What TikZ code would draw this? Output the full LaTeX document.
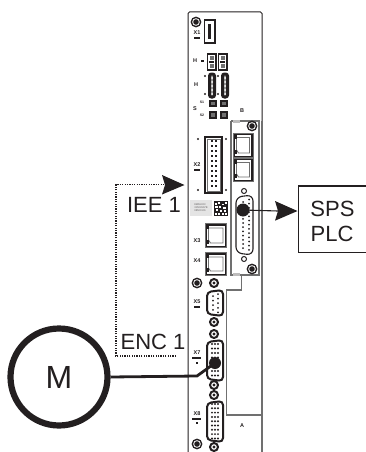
\documentclass[tikz,border=0pt]{standalone}
\usepackage{fontspec}
\setmainfont{Liberation Sans}
\definecolor{ink}{HTML}{231F20}
\definecolor{gr}{HTML}{707070}
\tikzset{
 x=1pt,y=-1pt,
 wire/.style={ink,line width=2.8pt},
 big/.style={font=\fontsize{22}{24}\selectfont,text=ink,inner sep=0pt},
 tinylab/.style={font=\bfseries\fontsize{5.5}{5.5}\selectfont,text=ink,inner sep=0pt},
 dsubshape/.style={draw=ink,line width=2pt,fill=white,rounded corners=4pt},
}
\newcommand{\screwat}[2]{\fill[ink] (#1,#2) circle (5.4); \fill[white] (#1,#2) circle (3.8); \fill[ink] (#1,#2) circle (2.8);}
\newcommand{\ear}[2]{\draw[ink,line width=2pt,fill=white] (#1,#2) circle (4); \fill[ink] (#1,#2) circle (1.6);}
\newcommand{\rjfort}[4]{\fill[gr] (#1-1,#2-1) rectangle (#3+1,#4+1);
 \fill[ink] (#1,#2) rectangle (#3,#4);
 \fill[white] (#1+1.5,#2+1.5) rectangle (#3-1.5,#4-1.5);
 \draw[gr,line width=.9pt,fill=white] (#1+3,#2+4) -- (#3-3,#2+4) -- (#3-3,#4-4) -- (#1+5,#4-4) -- (#1+3,#4-7) -- cycle;
 \fill[ink] (#1,#4-7) rectangle (#1+3,#4-3);\fill[ink] (#1,#2+1) rectangle (#1+3,#2+5);
}
\begin{document}
\begin{tikzpicture}
\useasboundingbox (0,0) rectangle (366,452);
% panel outline
\draw[ink,line width=1pt,rounded corners=1.5pt] (188,452) -- (188,12) -- (262,12) -- (262,121);
\draw[gr,line width=1.3pt] (262,121) -- (262,452);
\draw[gr,line width=1.3pt] (231,121) -- (259,121) -- (259,275) -- (241.6,275) -- (241.6,290) -- (226.6,290) -- (226.6,415) -- (262,415);
\draw[gr,line width=1.3pt] (231,121) -- (231,275) -- (241.6,275);
\fill[ink!30] (233,120) rectangle (240,122.5);
\fill[ink!30] (233,273) rectangle (240,276);
% X1
\screwat{196}{22}
\draw[ink,line width=1.7pt,fill=white] (204.5,20) rectangle (215,43);
\fill[ink] (207.5,24) rectangle (211,39);
\node[tinylab] (x1) at (197,33) {X1};
\fill[ink] (194,37) rectangle (200,39);
% 7 seg
\node[tinylab] (h1) at (195,61) {H};
\fill[ink] (201,60.5) rectangle (204,62.5);
\foreach \xx in {207.5,218.5}{
 \draw[ink,line width=1.9pt,fill=white] (\xx,54) rectangle ++(8.5,16);
 \draw[ink,line width=1.4pt] (\xx+1.7,62) -- (\xx+6.8,62);
 \fill[gr] (\xx+2,56) rectangle (\xx+6.5,60);
 \fill[gr] (\xx+2,64) rectangle (\xx+6.5,68);
}
% H
\node[tinylab] (h2) at (196,85) {H};
\foreach \xx in {212,225}{
 \draw[ink,line width=3pt,fill=gr!70,rounded corners=2pt] (\xx-2.5,74) -- (\xx-2.5,97) -- (\xx+2.5,97) -- (\xx+2.5,74) -- cycle;
 \foreach \yy in {78,82,86,90,94}{\fill[white] (\xx,\yy) circle (1);}
}
\foreach \p in {(205,76),(218,76),(205,94),(218,94)}{\fill[ink] \p circle (1.2);}
% S
\node[tinylab] (s1) at (195,109) {S};
\node[tinylab,font=\bfseries\fontsize{3.5}{3.5}\selectfont] (s2) at (202,102) {S1};
\node[tinylab,font=\bfseries\fontsize{3.5}{3.5}\selectfont] (s3) at (202,115) {S2};
\foreach \xx in {208.5,219.5}{\foreach \yy in {99.5,111}{
 \fill[ink] (\xx,\yy) rectangle ++(8.5,7.5);
 \fill[gr] (\xx+2,\yy+2) rectangle ++(4.5,3.5);}}
\node[tinylab] (b) at (242,111) {B};
% X2
\node[tinylab] (x2) at (197,165) {X2};
\fill[ink] (194,169) rectangle (200,171);
\draw[ink,line width=1.9pt,fill=white] (205,137) rectangle (222,193);
\draw[gr,line width=.7pt] (207,139) rectangle (220,191);
\foreach \k in {0,...,9}{\fill[ink] (211,139.5+5*\k) rectangle ++(2,2); \fill[ink] (215,139.5+5*\k) rectangle ++(2,2);}
\foreach \p in {(198,139),(226,139),(198,190),(226,190)}{\fill[ink] \p circle (1.1);}
% Label + QR
\fill[ink!12] (190,200) rectangle (212,216);
\node[font=\fontsize{2.6}{3}\selectfont,text=ink!70,align=left,inner sep=0pt] (lab) at (201,208) {8MA5323\\31504567B\\08500101};
\fill[ink] (213.5,201) rectangle (228,216);
\foreach \a/\b/\c/\d in {215/203/1.5/1.5,218/202/2/2,222/204/2/1,225/202/1.5/2,214.5/206/3/1.5,219/206/1.5/2,223/207/3/1.5,216/209/2/2,220/210/2/1.5,224/210/1.5/2,214.5/213/2/1.5,218/213/2/1.5,222/213/1.5/2,225/213/2/1.5}{\fill[white] (\a,\b) rectangle ++(\c,\d);}
% B RJ45
\rjfort{233.5}{133.5}{252.5}{157}
\rjfort{233.5}{158.5}{252.5}{181}
\screwat{252}{126}
\screwat{252}{269}
% SPS d-sub
\draw[ink,line width=1pt,fill=white] (244,191) circle (2.5);
\draw[ink,line width=1pt,fill=white] (244,259) circle (2.5);
\draw[ink,line width=1.1pt,fill=white,rounded corners=6pt] (236,197) -- (253,195) -- (253,255) -- (236,253) -- cycle;
\foreach \k in {0,...,12}{\fill[ink] (249,199.5+4.2*\k) circle (1);}
\foreach \k in {0,...,11}{\fill[ink] (243,202+4.2*\k) circle (1);}
% X3 X4
\node[tinylab] (x3) at (197,241) {X3};
\node[tinylab] (x4) at (197,261) {X4};
\rjfort{205.5}{224}{226}{247}
\rjfort{205.5}{253}{226}{275}
% X5
\screwat{197}{283}
\ear{214}{283}
\ear{214}{322}
\draw[dsubshape] (207,292) -- (223,290) -- (223,316) -- (207,314) -- cycle;
\foreach \k in {0,...,4}{\fill[ink] (218,294+4.6*\k) circle (1);}
\foreach \k in {0,...,3}{\fill[ink] (213,296+4.6*\k) circle (1);}
\node[tinylab] (x5) at (197,302) {X5};
\fill[ink] (194,306) rectangle (200,308);
% X7
\ear{214}{334}
\ear{214}{385}
\draw[dsubshape] (207,342) -- (223,340) -- (223,381) -- (207,379) -- cycle;
\foreach \i in {212,215,218}{\foreach \k in {0,...,7}{\fill[ink] (\i,344+4.5*\k) circle (1.1);}}
\node[tinylab] (x7) at (197,353) {X7};
\fill[ink] (192,357) rectangle (201,359);
\fill[ink] (196,362) rectangle (198,364);
% X8
\ear{214}{395}
\ear{214}{447}
\draw[dsubshape] (207,403) -- (223,401) -- (223,442) -- (207,440) -- cycle;
\foreach \i in {212,215,218}{\foreach \k in {0,...,8}{\fill[ink] (\i,404+4.3*\k) circle (1.1);}}
\node[tinylab] (x8) at (197,414) {X8};
\fill[ink] (192,418) rectangle (201,420);
\fill[ink] (196,422) rectangle (198,424);
\screwat{197}{444}
\node[tinylab] (a) at (242,426) {A};
% Connectors and labels
\node[circle,fill=ink,inner sep=0pt,minimum size=13pt] (dotb) at (243,210) {};
\node[circle,fill=ink,inner sep=0pt,minimum size=12pt] (dotm) at (215,363) {};
\node[draw=ink,line width=6.2pt,circle,inner sep=0pt,minimum size=97pt,font=\fontsize{32}{34}\selectfont,text=ink] (M) at (59,377) {M};
\draw[wire] (M.east) -- (197,376) -- (dotm.center);
\node[big] (iee) at (154,205) {IEE 1};
\node[big] (enc) at (153,342) {ENC 1};
\coordinate (ds) at (176,356);
\coordinate (dc1) at (116,356);
\coordinate (dc2) at (116,184.5);
\coordinate (tip) at (165,184.5);
\draw[ink,line width=1.2pt,dash pattern=on 1.2pt off 1.2pt] (ds) -- (dc1) -- (dc2) -- (tip);
\fill[ink] (184.5,185) -- (162,175) -- (165,185) -- (162,194.5) -- cycle;
\draw[ink,line width=1.2pt] (298.5,186) -- (368,186) -- (368,252.5) -- (298.5,252.5) -- cycle;
\node[big,align=center] (sps) at (332.5,209) {SPS};
\node[big,align=center] (plc) at (332,234) {PLC};
\coordinate (arr) at (278,211);
\draw[ink,line width=1.1pt] (dotb.center) -- (arr);
\fill[ink] (297.5,211) -- (275,201) -- (278,211) -- (275,220.7) -- cycle;
\end{tikzpicture}
\end{document}
